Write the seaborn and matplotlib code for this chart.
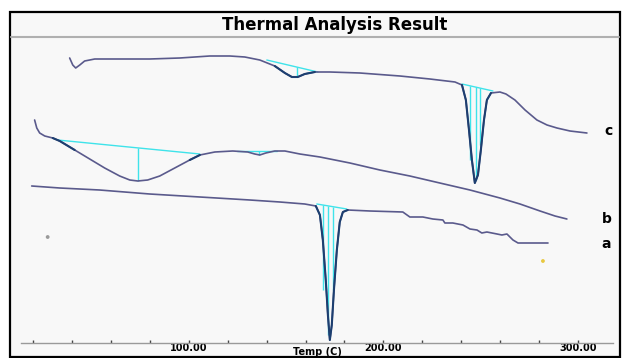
import numpy as np
import matplotlib
matplotlib.use("Agg")
import matplotlib.pyplot as plt
import seaborn as sns
from matplotlib.patches import Rectangle
from matplotlib.lines import Line2D
from matplotlib.ticker import MultipleLocator

# curve c (top trace)
c_temp = [38.8, 40.4, 41.9, 44.0, 46.5, 51.7, 64.5, 79.9, 95.4, 110.8, 121.1, 128.8,
          136.5, 144.2, 149.4, 153.0, 156.0, 159.6, 164.8, 172.5, 187.9, 208.5, 223.9,
          236.8, 240.4, 242.4, 244.0, 245.5, 247.0, 248.6, 250.1, 251.7, 253.2, 255.3,
          259.9, 263.0, 267.6, 272.8, 278.9, 284.1, 289.2, 295.9, 304.6]
c_heat = [292, 285, 282, 285, 289, 291, 291, 291, 292, 294, 294, 293,
          290, 284, 277, 273, 273, 276, 278, 278, 277, 274, 271,
          268, 265, 250, 220, 190, 167, 175, 200, 230, 250, 257,
          258, 256, 250, 240, 230, 225, 222, 219, 217]

# curve b (middle trace)
b_temp = [20.8, 21.9, 23.4, 26.0, 30.1, 33.7, 41.4, 49.1, 56.8, 64.5, 69.7, 73.8,
          78.9, 85.1, 92.8, 100.5, 105.7, 113.4, 122.6, 130.3, 133.9, 136.5, 139.6,
          144.2, 149.4, 157.1, 167.4, 182.8, 198.2, 213.6, 229.0, 244.5, 259.9,
          270.2, 280.5, 288.2, 294.3]
b_heat = [230, 222, 217, 214, 212, 209, 200, 191, 182, 174, 170, 169,
          170, 174, 182, 190, 195, 198, 199, 198, 196, 195, 197,
          199, 199, 196, 193, 187, 180, 174, 167, 160, 152,
          146, 139, 134, 131]

# curve a (bottom trace)
a_temp = [19.3, 33.7, 54.2, 79.9, 105.7, 131.4, 146.8, 159.6, 165.3, 167.4, 168.9,
          170.4, 171.5, 172.5, 173.5, 174.6, 176.1, 177.6, 179.2, 181.7, 193.1, 210.0,
          213.6, 220.3, 225.4, 230.6, 231.6, 235.7, 240.9, 244.5, 248.1, 250.6, 253.2,
          258.4, 260.9, 263.5, 266.6, 269.2, 284.6]
a_heat = [164, 162, 160, 156, 153, 150, 148, 146, 144, 135, 110,
          70, 35, 10, 25, 60, 100, 128, 138, 140, 139, 138,
          133, 133, 131, 130, 127, 127, 125, 121, 120, 117, 118,
          116, 115, 116, 110, 107, 107]

# integration baselines (start / end) and peak drop lines
base_t0 = [140.1, 240.4, 32.6, 124.7, 165.8]
base_h0 = [290, 266, 210, 199, 146]
base_t1 = [166.3, 256.3, 105.7, 145.2, 181.2]
base_h1 = [278, 259, 196, 199, 141]
drop_temp = [155.5, 244.5, 247.6, 249.6, 73.8, 136.0, 168.9, 171.5, 174.0]
drop_top = [283, 264, 263, 262, 202, 199, 145, 144, 143]
drop_bot = [274, 190, 170, 205, 169, 195, 60, 15, 60]

# peak windows drawn darker
c_windows = [(138, 166), (239, 257)]
b_windows = [(30, 45), (95, 108)]
a_windows = [(164, 182)]

dot_temp = [27.5, 282.0]
dot_heat = [113, 89]
dot_colors = ["#9a9a9a", "#e8c840"]

trace_labels = ["c", "b", "a"]
label_temp = [315.9, 314.9, 314.4]
label_heat = [219, 131, 106]

sns.set_theme(style="white")
plt.rcParams["font.family"] = ["DejaVu Sans"]
plt.rcParams["text.color"] = "black"
plt.rcParams["xtick.color"] = "black"
plt.rcParams["axes.labelcolor"] = "black"

W, H = 623, 358
fig = plt.figure(figsize=(6.23, 3.58), dpi=100)
fig.patch.set_facecolor("white")

fig.add_artist(Rectangle((10 / W, 1 - 357 / H), 610 / W, 345 / H,
                         transform=fig.transFigure, facecolor="#f8f8f8",
                         edgecolor="black", lw=1.6, zorder=0))
fig.add_artist(Line2D([11 / W, 619 / W], [1 - 37 / H] * 2,
                      transform=fig.transFigure, color="#b0b0b0", lw=1.5))
fig.text(335 / W, 1 - 25 / H, "Thermal Analysis Result", ha="center", va="center",
         fontsize=12, fontweight="bold", color="black")

ax = fig.add_axes([21 / W, 1 - 343 / H, 592 / W, 303 / H])
ax.patch.set_alpha(0)

line_col = "#5a5a8c"
dark_col = "#1d3f70"
cyan = "#3fe3ea"

for t, h, wins in [(c_temp, c_heat, c_windows), (b_temp, b_heat, b_windows),
                   (a_temp, a_heat, a_windows)]:
    sns.lineplot(x=t, y=h, sort=False, estimator=None, color=line_col, lw=1.2, ax=ax)
    t = np.array(t)
    h = np.array(h)
    for lo, hi in wins:
        m = (t >= lo) & (t <= hi)
        sns.lineplot(x=t[m], y=h[m], sort=False, estimator=None, color=dark_col,
                     lw=1.5, ax=ax)

for t0, h0, t1, h1 in zip(base_t0, base_h0, base_t1, base_h1):
    ax.plot([t0, t1], [h0, h1], color=cyan, lw=1.0, zorder=1)
ax.vlines(drop_temp, drop_bot, drop_top, color=cyan, lw=1.0, zorder=1)

ax.scatter(dot_temp, dot_heat, c=dot_colors, s=3, zorder=3)

for lab, t, h in zip(trace_labels, label_temp, label_heat):
    ax.text(t, h, lab, ha="center", va="center", fontsize=10, fontweight="bold",
            color="black", clip_on=False)

ax.set_xlim(13.8, 318)
ax.set_ylim(7, 310)
ax.set_yticks([])
ax.set_xticks([100, 200, 300])
ax.set_xticklabels(["100.00", "200.00", "300.00"], fontsize=7, fontweight="bold")
ax.xaxis.set_minor_locator(MultipleLocator(20))
ax.tick_params(axis="x", which="both", direction="in", length=2, width=1,
               color="#444444", pad=0.3, bottom=True)
for s in ["left", "top", "right"]:
    ax.spines[s].set_visible(False)
ax.spines["bottom"].set_color("#9a9a9a")
ax.spines["bottom"].set_linewidth(1.0)
ax.set_xlabel("Temp (C)", fontsize=7, fontweight="bold")
ax.xaxis.set_label_coords(0.5, -0.03)
ax.xaxis.label.set_va("center")

plt.savefig("out.png", dpi=100, facecolor="white")
plt.close()
